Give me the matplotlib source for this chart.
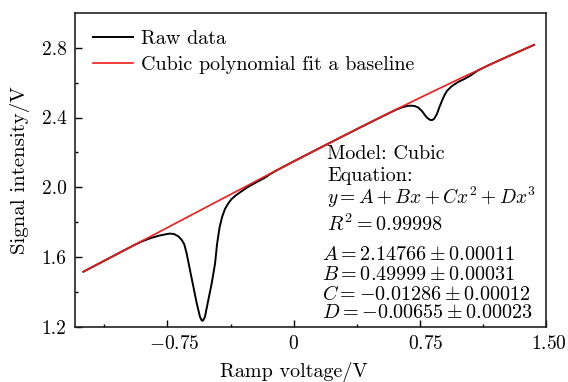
import numpy as np
import matplotlib
matplotlib.use("Agg")
import matplotlib.pyplot as plt
from matplotlib.transforms import ScaledTranslation

plt.rcParams["font.family"] = "serif"
plt.rcParams["font.serif"] = ["cmr10"]
plt.rcParams["mathtext.fontset"] = "cm"
plt.rcParams["axes.unicode_minus"] = False

# measured trace (ramp voltage, signal)
raw_x = [-1.25, -1.10, -0.95, -0.90, -0.85, -0.80, -0.76, -0.735, -0.71, -0.685,
         -0.665, -0.65, -0.636, -0.616, -0.596, -0.576, -0.557, -0.548, -0.543,
         -0.536, -0.527, -0.507, -0.487, -0.467, -0.455, -0.44, -0.425, -0.408,
         -0.39, -0.368, -0.34, -0.318, -0.29, -0.259, -0.23, -0.199, -0.17,
         -0.14, -0.10, 0.0, 0.2, 0.4, 0.55, 0.614, 0.65, 0.68, 0.70, 0.72,
         0.74, 0.763, 0.78, 0.793, 0.81, 0.823, 0.835, 0.852, 0.867, 0.882,
         0.897, 0.912, 0.942, 0.98, 1.011, 1.05, 1.09, 1.15, 1.25, 1.43]
raw_y = [1.515, 1.591, 1.667, 1.690, 1.708, 1.722, 1.730, 1.734, 1.731, 1.718,
         1.697, 1.672, 1.620, 1.524, 1.429, 1.334, 1.257, 1.238, 1.233,
         1.238, 1.257, 1.353, 1.448, 1.562, 1.675, 1.770, 1.830, 1.875,
         1.905, 1.933, 1.956, 1.971, 1.990, 2.009, 2.024, 2.040, 2.055,
         2.075, 2.097, 2.148, 2.247, 2.345, 2.417, 2.447, 2.460, 2.467, 2.468, 2.466,
         2.458, 2.438, 2.415, 2.400, 2.387, 2.385, 2.392, 2.419, 2.460, 2.495,
         2.528, 2.553, 2.581, 2.605, 2.619, 2.640, 2.667, 2.696, 2.740, 2.817]

# cubic baseline fit y = A + Bx + Cx^2 + Dx^3
A, B, C, D = 2.14766, 0.49999, -0.01286, -0.00655
fit_range = [-1.25, 1.43]

x_ticks = [-0.75, 0.0, 0.75, 1.50]
x_tick_labels = [r"$-0.75$", r"$0$", r"$0.75$", r"$1.50$"]
y_ticks = [1.2, 1.6, 2.0, 2.4, 2.8]
y_tick_labels = ["1.2", "1.6", "2.0", "2.4", "2.8"]

fit_lines = [
    "Model: Cubic",
    "Equation:",
    r"$y=A+Bx+Cx^2+Dx^3$",
    r"$R^2=0.99998$",
]
param_lines = [
    r"$A=2.14766\pm0.00011$",
    r"$B=0.49999\pm0.00031$",
    r"$C=-0.01286\pm0.00012$",
    r"$D=-0.00655\pm0.00023$",
]

fig = plt.figure(figsize=(5.68, 3.82), dpi=100)
ax = fig.add_axes([0.132, 0.145, 0.829, 0.821])

xf = np.linspace(fit_range[0], fit_range[1], 200)
yf = A + B * xf + C * xf**2 + D * xf**3
ax.plot(raw_x, raw_y, color="black", lw=1.4, label="Raw data")
ax.plot(xf, yf, color="#ee1c1c", lw=1.2, label="Cubic polynomial fit a baseline")

ax.set_xlim(-1.3, 1.5)
ax.set_ylim(1.2, 3.0)
ax.set_xticks(x_ticks)
ax.set_xticklabels(x_tick_labels)
ax.set_xticks([-1.125, -0.375, 0.375, 1.125], minor=True)
ax.set_yticks(y_ticks)
ax.set_yticklabels(y_tick_labels)
ax.set_yticks([1.4, 1.8, 2.2, 2.6], minor=True)
ax.tick_params(which="both", direction="in", top=False, right=False, labelsize=14)
ax.tick_params(which="major", length=5, width=1.0, pad=6)
ax.tick_params(which="minor", length=2.5, width=1.0)
for sp in ax.spines.values():
    sp.set_linewidth(1.2)
    sp.set_color("#222222")

# x labels sit slightly right of their ticks (offsets in pixels at 100 dpi)
for lab, dx in zip(ax.get_xticklabels(), [7, 0, 6, 3]):
    lab.set_transform(lab.get_transform()
                      + ScaledTranslation(dx / 100, 0, fig.dpi_scale_trans))

ax.set_xlabel("Ramp voltage/V", fontsize=14.5, va="top")
ax.xaxis.set_label_coords(0.464, -0.112)
ax.set_ylabel("Signal intensity/V", fontsize=15)
ax.yaxis.set_label_coords(-0.095, 0.5)

ax.legend(loc="upper left", bbox_to_anchor=(0.0, 1.004), frameon=False,
          fontsize=14.5, handlelength=2.0, handletextpad=0.4, labelspacing=0.4,
          borderaxespad=0.5)

for txt, yy in zip(fit_lines, [2.162, 2.038, 1.905, 1.749]):
    fs = 14 if txt.startswith("$y") else 14.5
    ax.text(0.198, yy, txt, fontsize=fs, va="baseline", ha="left")
for txt, yy in zip(param_lines, [1.581, 1.467, 1.353, 1.248]):
    ax.text(0.168, yy, txt, fontsize=14.5, va="baseline", ha="left")

fig.savefig("out.png", dpi=100)
